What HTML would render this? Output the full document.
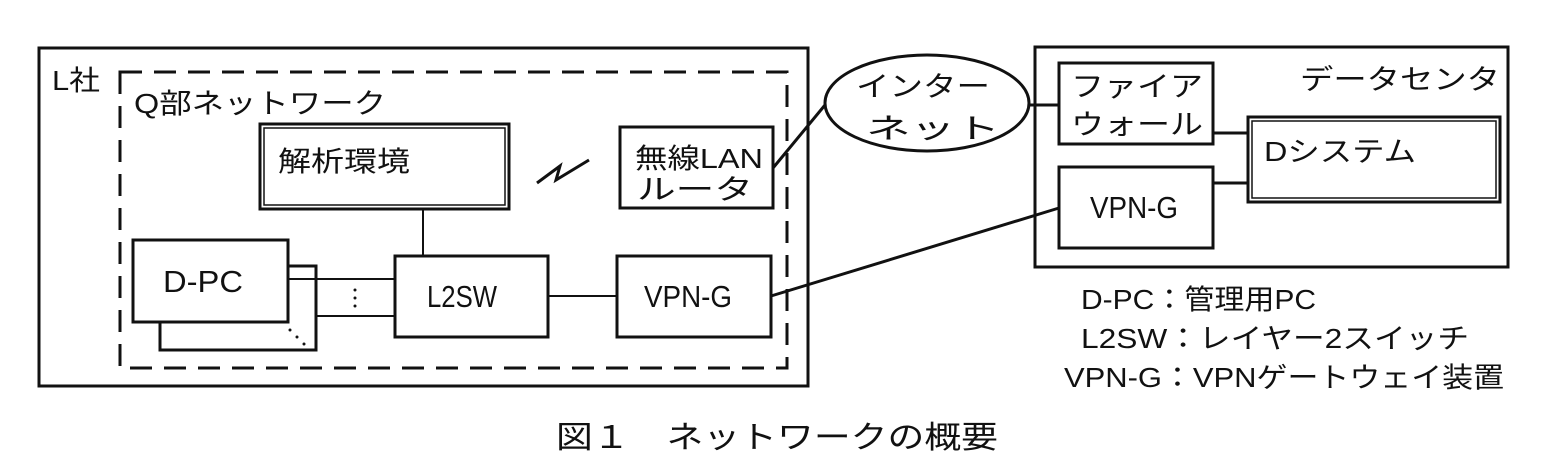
<!DOCTYPE html>
<html><head><meta charset="utf-8"><style>
html,body{margin:0;padding:0;background:#fff;}
svg{display:block}
text{font-family:"Liberation Sans","Noto Sans CJK JP",sans-serif;fill:#111;}
</style></head><body>
<svg width="1542" height="468" viewBox="0 0 1542 468" xmlns="http://www.w3.org/2000/svg">
<g fill="none" stroke="#111" stroke-width="3">
<rect x="39" y="48" width="769" height="338"/>
<rect x="120" y="72" width="667" height="296" stroke-dasharray="22,12"/>
<rect x="260" y="124" width="249" height="85"/>
<rect x="264" y="128" width="241" height="77" stroke-width="1.5"/>
<rect x="620" y="127" width="153" height="81"/>
<rect x="160" y="266" width="156" height="84"/>
<rect x="133" y="240" width="155" height="82" fill="#fff"/>
<rect x="395" y="256" width="153" height="81"/>
<rect x="617" y="256" width="154" height="81"/>
<polyline points="537,183 560,166 556,180 589,160" stroke-width="3"/>
<line x1="423" y1="209" x2="423" y2="256" stroke-width="2"/>
<line x1="288" y1="279" x2="395" y2="279" stroke-width="2"/>
<line x1="316" y1="316" x2="395" y2="316" stroke-width="2"/>
<line x1="548" y1="296" x2="617" y2="296" stroke-width="2"/>
<line x1="771" y1="296" x2="1059" y2="208"/>
<line x1="773" y1="168" x2="825" y2="105"/>
<ellipse cx="927" cy="103" rx="102" ry="48"/>
<rect x="1035" y="47" width="473" height="220"/>
<rect x="1059" y="63" width="154" height="81"/>
<rect x="1248" y="117" width="252" height="85"/>
<rect x="1252" y="121" width="244" height="77" stroke-width="1.5"/>
<rect x="1059" y="167" width="154" height="81"/>
<line x1="1029" y1="105" x2="1059" y2="105"/>
<line x1="1213" y1="133" x2="1248" y2="133"/>
<line x1="1213" y1="183" x2="1248" y2="183"/>
</g>
<g fill="#111">
<circle cx="355" cy="290" r="1.5"/><circle cx="355" cy="298" r="1.5"/><circle cx="355" cy="306" r="1.5"/>
<circle cx="290" cy="330" r="1.5"/><circle cx="297" cy="337" r="1.5"/><circle cx="304" cy="344" r="1.5"/>
</g>
<g font-size="28">
<text x="52" y="90" textLength="48" lengthAdjust="spacingAndGlyphs">L社</text>
<text x="134" y="113" textLength="252" lengthAdjust="spacingAndGlyphs">Q部ネットワーク</text>
<text x="278" y="171" textLength="132" lengthAdjust="spacingAndGlyphs">解析環境</text>
<text x="635" y="168" textLength="128" lengthAdjust="spacingAndGlyphs">無線LAN</text>
<text x="637" y="199" textLength="116" lengthAdjust="spacingAndGlyphs">ルータ</text>
<text x="163" y="292" font-size="31" textLength="80" lengthAdjust="spacingAndGlyphs">D-PC</text>
<text x="427" y="307" font-size="31" textLength="70" lengthAdjust="spacingAndGlyphs">L2SW</text>
<text x="644" y="307" font-size="31" textLength="88" lengthAdjust="spacingAndGlyphs">VPN-G</text>
<text x="856" y="96" textLength="134" lengthAdjust="spacingAndGlyphs">インター</text>
<text x="866" y="138" textLength="134" lengthAdjust="spacingAndGlyphs">ネット</text>
<text x="1071" y="96" textLength="132" lengthAdjust="spacingAndGlyphs">ファイア</text>
<text x="1071" y="134" textLength="132" lengthAdjust="spacingAndGlyphs">ウォール</text>
<text x="1300" y="89" textLength="200" lengthAdjust="spacingAndGlyphs">データセンタ</text>
<text x="1264" y="161" textLength="152" lengthAdjust="spacingAndGlyphs">Dシステム</text>
<text x="1090" y="218" font-size="31" textLength="88" lengthAdjust="spacingAndGlyphs">VPN-G</text>
<text x="1081" y="309" textLength="235" lengthAdjust="spacingAndGlyphs">D-PC：管理用PC</text>
<text x="1081" y="348" textLength="388" lengthAdjust="spacingAndGlyphs">L2SW：レイヤー2スイッチ</text>
<text x="1064" y="387" textLength="440" lengthAdjust="spacingAndGlyphs">VPN-G：VPNゲートウェイ装置</text>
</g>
<text x="556" y="448" font-size="31" textLength="442" lengthAdjust="spacingAndGlyphs">図１　ネットワークの概要</text>
</svg>
</body></html>
